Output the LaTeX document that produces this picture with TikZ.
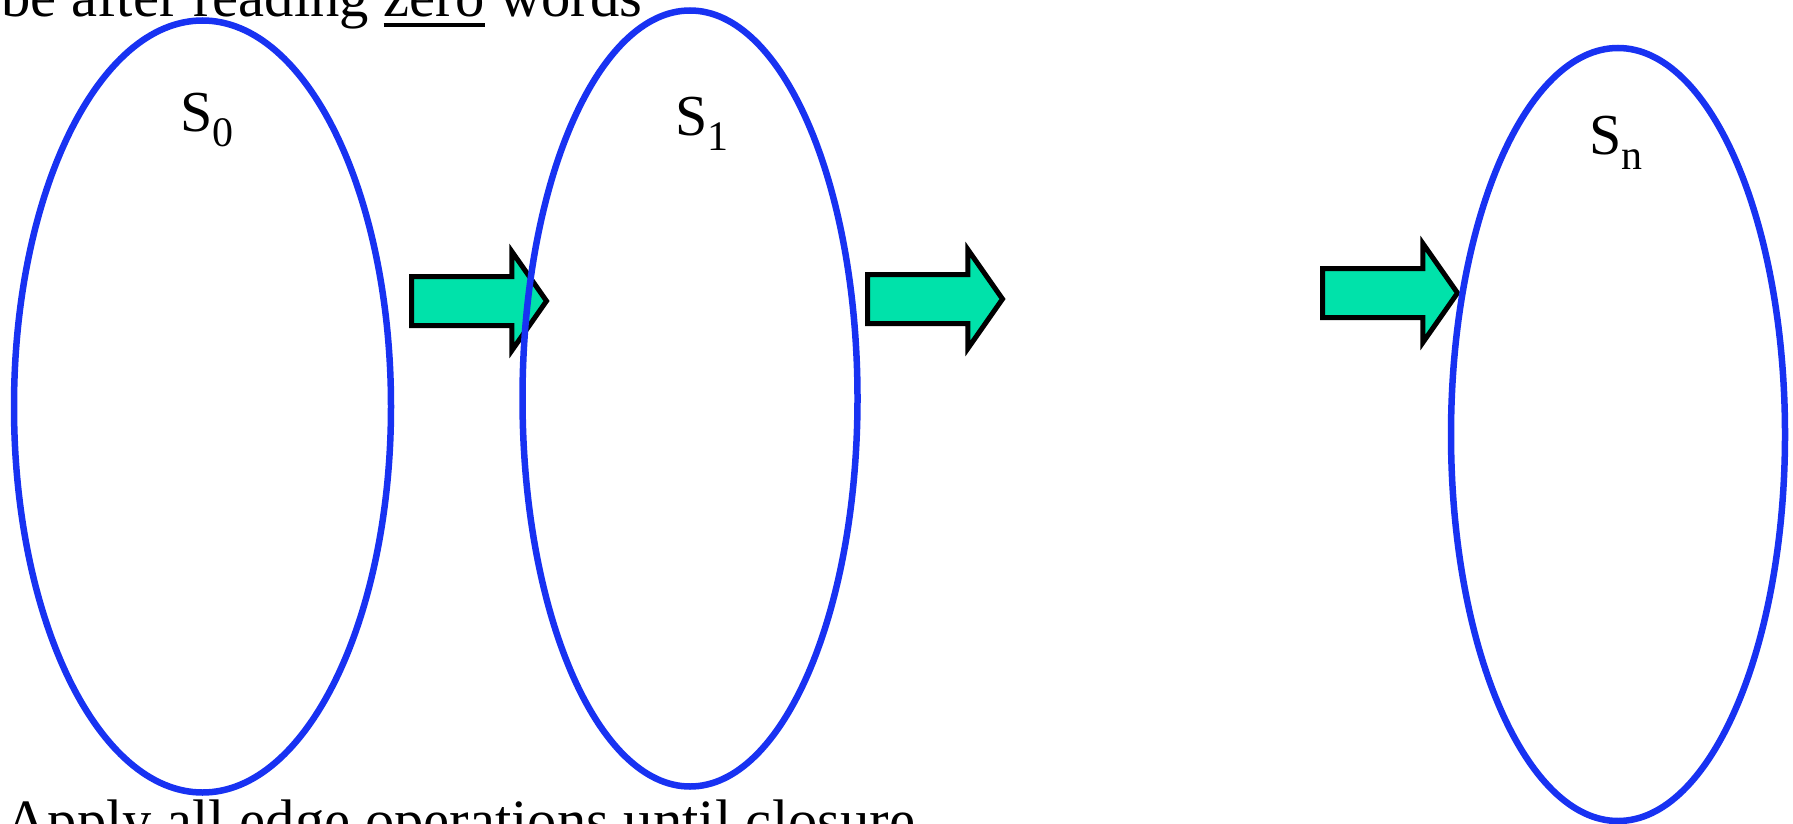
\documentclass[tikz,border=0pt]{standalone}
\usepackage{fontspec}
\setmainfont{Liberation Serif}
\usetikzlibrary{shapes.geometric,shapes.arrows}
\definecolor{setblue}{RGB}{24,50,242}
\definecolor{arrgreen}{RGB}{0,226,170}
\newcommand\myuline[1]{\setbox0\hbox{#1}\rlap{\rule[-5pt]{\wd0}{2pt}}\box0\relax}
\tikzset{
  setell/.style={ellipse, draw=setblue, line width=3.25pt, inner sep=0pt},
  fatarrow/.style={single arrow, draw=black, fill=arrgreen, line width=2.5pt,
    inner xsep=0pt, inner ysep=11pt, minimum height=67.5pt,
    single arrow head extend=12.5pt, single arrow tip angle=110,
    anchor=tail, miter limit=10},
  bigtext/.style={inner sep=0pt, anchor=base west, font=\fontsize{29.3pt}{34pt}\selectfont},
  setlabel/.style={inner sep=0pt, anchor=base west, font=\fontsize{29pt}{34pt}\selectfont}
}
\newcommand\subs[1]{\raisebox{-7.5pt}{\fontsize{21pt}{24pt}\selectfont #1}}
\begin{document}
\begin{tikzpicture}[x=0.5pt,y=-0.5pt]
\useasboundingbox (0,0) rectangle (1793,824);
% top and bottom text
\node[bigtext] (toptext) at (1,17) {be after reading \myuline{zero} words};
\node[bigtext] (bottext) at (5,840) {Apply all edge operations until closure};
% arrows
\node[fatarrow] (a1) at (409,301) {};
\node[fatarrow] (a2) at (865,299) {};
\node[fatarrow] (a3) at (1320,293) {};
% ellipses
\node[setell, minimum width=188.5pt, minimum height=386pt] (e0) at (202.5,406.5) {};
\node[setell, minimum width=167.5pt, minimum height=388pt] (e1) at (690,398.5) {};
\node[setell, minimum width=167pt, minimum height=386.5pt] (en) at (1618,434.5) {};
% labels
\node[setlabel] (l0) at (180,132) {S\subs{0}};
\node[setlabel] (l1) at (675,135) {S\subs{1}};
\node[setlabel] (ln) at (1589,155) {S\subs{n}};
\end{tikzpicture}
\end{document}
